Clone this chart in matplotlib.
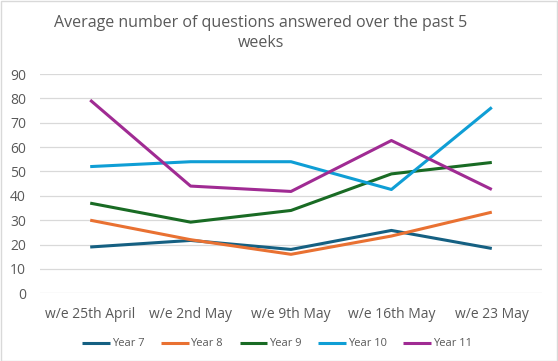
import matplotlib
matplotlib.use("Agg")
import matplotlib.pyplot as plt
from matplotlib.patches import Rectangle

plt.rcParams['font.family'] = ['Open Sans', 'DejaVu Sans']

categories = ["w/e 25th April", "w/e 2nd May", "w/e 9th May", "w/e 16th May", "w/e 23 May"]
year7 = [19, 21.7, 18, 25.8, 18.4]
year8 = [30, 22, 16, 23.5, 33.3]
year9 = [37, 29.2, 34, 49, 53.7]
year10 = [52, 54, 54, 42.6, 76.3]
year11 = [79.3, 44, 41.8, 62.7, 42.6]
series_names = ["Year 7", "Year 8", "Year 9", "Year 10", "Year 11"]
colors = ["#156082", "#E97132", "#196B24", "#0F9ED5", "#A02B93"]
yticks = [0, 10, 20, 30, 40, 50, 60, 70, 80, 90]

fig = plt.figure(figsize=(5.58, 3.61), dpi=100)
W, H = 558, 361
ax = fig.add_axes([40 / W, 1 - 293.3 / H, (542 - 40) / W, (293.3 - 74) / H])

x = list(range(len(categories)))
for vals, name, c in zip([year7, year8, year9, year10, year11], series_names, colors):
    ax.plot(x, vals, color=c, lw=2.2, label=name, solid_capstyle='butt')

ax.set_xlim(-0.5, len(categories) - 0.5)
ax.set_ylim(0, 90)
ax.set_yticks(yticks)
ax.set_xticks(x)
ax.set_xticklabels(categories)
ax.grid(axis='y', color='#D9D9D9', lw=0.9)
ax.set_axisbelow(True)
for s in ax.spines.values():
    s.set_visible(False)
ax.tick_params(axis='both', length=0, colors='#595959', labelsize=10)
ax.tick_params(axis='x', pad=10)
ax.tick_params(axis='y', pad=10)

fig.text(261 / W, 1 - 33 / H, "Average number of questions answered over the past 5\nweeks",
         ha='center', va='center', fontsize=11.5, color='#595959', linespacing=1.35)

leg = fig.legend(loc='center', bbox_to_anchor=(277 / W, 1 - 344 / H), ncol=5, frameon=False,
                 fontsize=8, handlelength=2.5, handletextpad=0.15, columnspacing=1.5)
for t in leg.get_texts():
    t.set_color('#595959')

fig.patches.append(Rectangle((0.5 / W, 0.5 / H), 1 - 1.5 / W, 1 - 1.5 / H, transform=fig.transFigure,
                             fill=False, edgecolor='#D9D9D9', lw=1))

fig.savefig("out.png", dpi=100)
